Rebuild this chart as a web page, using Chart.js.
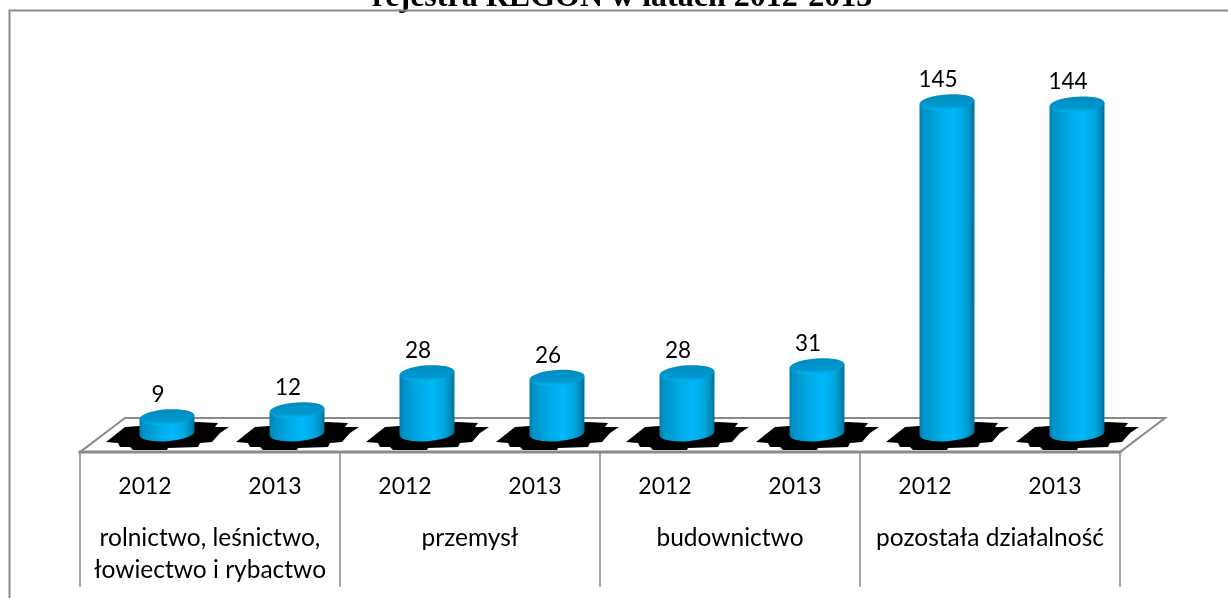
<!DOCTYPE html>
<html><head><meta charset="utf-8">
<style>html,body{margin:0;padding:0;background:#fff;overflow:hidden}#wrap{width:1228px;height:598px}</style>
<script src="https://cdn.jsdelivr.net/npm/chart.js@4"></script>
</head><body><div id="wrap"><canvas id="c"></canvas></div>
<script>
const years = ['2012','2013','2012','2013','2012','2013','2012','2013'];
const groups = [['rolnictwo, leśnictwo,','łowiectwo i rybactwo'],'przemysł','budownictwo','pozostała działalność'];
const values = [9,12,28,26,28,31,145,144];
const titleText = 'rejestra REGON w latach 2012-2013';
const FONT = 'Lato';
const GREY = '#8a8a8a';
const DEPTH = 22;   // sideways shift of the 3D floor
const TILT = -0.07;
const shadow = [[-61,4],[-42,-11],[30,-16],[51,-15],[48,-11],[62,-11],[53,-5],[45,4],[33,5],[31,9],[1,10],[0,12],[-34,12],[-37,9],[-47,9],[-49,5]];

function line(ctx,pts,w){ctx.save();ctx.strokeStyle=GREY;ctx.lineWidth=w;ctx.lineCap='square';ctx.beginPath();
  pts.forEach((p,i)=>i?ctx.lineTo(p[0],p[1]):ctx.moveTo(p[0],p[1]));ctx.stroke();ctx.restore();}

const scene = {
  id:'scene',
  beforeDatasetsDraw(chart){
    const ctx=chart.ctx, x=chart.scales.x, y=chart.scales.y;
    const base=y.getPixelForValue(0), L=x.left-DEPTH, R=x.right-DEPTH, step=(R-L)/4;
    const front=base+14, back=base-20;
    // outer frame
    line(ctx,[[9.5,598],[9.5,10.5],[1228,10.5]],2);
    // floor
    ctx.save();ctx.fillStyle='#fff';ctx.beginPath();ctx.moveTo(L,front);ctx.lineTo(L+45,back);ctx.lineTo(R+45,back);ctx.lineTo(R,front);ctx.closePath();ctx.fill();ctx.restore();
    line(ctx,[[L,front],[L+45,back],[R+45,back],[R,front]],2);
    // shadows
    const meta=chart.getDatasetMeta(0);
    ctx.save();ctx.fillStyle='#000';
    meta.data.forEach(b=>{ctx.beginPath();shadow.forEach((p,i)=>{const a=b.x+p[0],c=base+p[1];i?ctx.lineTo(a,c):ctx.moveTo(a,c);});ctx.closePath();ctx.fill();});
    ctx.restore();
    line(ctx,[[L,front],[R,front]],3);
    for(let i=0;i<=4;i++) line(ctx,[[L+i*step,front],[L+i*step,586]],1.5);
  },
  beforeDatasetDraw(chart,args){
    const ctx=chart.ctx, meta=chart.getDatasetMeta(args.index);
    meta.data.forEach(b=>{
      const w=b.width, rx=w/2, ry=7.8, cx=b.x, top=b.y, bot=b.base-4.6;
      const dy=rx*Math.sin(TILT);
      const g=ctx.createLinearGradient(cx-rx,0,cx+rx,0);
      g.addColorStop(0,'#007fb0');g.addColorStop(.08,'#0093c9');g.addColorStop(.35,'#00a9e4');
      g.addColorStop(.6,'#00b8fb');g.addColorStop(.82,'#00a6df');g.addColorStop(.94,'#0086b6');g.addColorStop(1,'#006f96');
      ctx.save();
      ctx.fillStyle=g;ctx.beginPath();
      ctx.moveTo(cx-rx,top-dy);
      ctx.lineTo(cx-rx,bot-dy);
      ctx.ellipse(cx,bot,rx,ry,TILT,Math.PI,0,true);
      ctx.lineTo(cx+rx,top+dy);
      ctx.closePath();ctx.fill();
      const c=ctx.createLinearGradient(0,top-ry,0,top+ry);
      c.addColorStop(0,'#008cc0');c.addColorStop(.72,'#0097ce');c.addColorStop(1,'#00b4f0');
      ctx.fillStyle=c;ctx.beginPath();ctx.ellipse(cx,top,rx,ry,TILT,0,Math.PI*2);ctx.fill();
      ctx.restore();
    });
    return false;
  },
  afterDatasetsDraw(chart){
    const ctx=chart.ctx, meta=chart.getDatasetMeta(0);
    ctx.save();ctx.fillStyle='#000';ctx.font='22.5px '+FONT;ctx.textAlign='center';ctx.textBaseline='middle';
    meta.data.forEach((b,i)=>ctx.fillText(String(values[i]),b.x-9,b.y-22.5));
    ctx.restore();
  }
};

new Chart(document.getElementById('c'),{
  type:'bar',
  data:{labels:years,datasets:[{data:values,backgroundColor:'#00b0f0',barPercentage:55/130,categoryPercentage:1}]},
  options:{
    responsive:true,maintainAspectRatio:false,animation:false,
    layout:{padding:{left:102,right:86,top:0,bottom:0}},
    plugins:{
      legend:{display:false},tooltip:{enabled:false},
      title:{display:true,text:titleText,color:'#000',align:'center',
        font:{family:'Liberation Serif',size:32,weight:'bold',lineHeight:1.2},
        padding:{top:-21.5,bottom:4.2}}
    },
    scales:{
      y:{display:false,min:0,max:180},
      x:{type:'category',offset:true,position:'bottom',grid:{display:false},border:{display:false},
        ticks:{color:'#000',font:{family:FONT,size:23},labelOffset:-DEPTH,padding:27,maxRotation:0,autoSkip:false},
        afterFit(s){s.height=72;}},
      x2:{type:'category',axis:'x',labels:groups,offset:true,position:'bottom',grid:{display:false},border:{display:false},
        ticks:{color:'#000',font:{family:FONT,size:24.5,lineHeight:1.27},labelOffset:-DEPTH,padding:5,maxRotation:0,autoSkip:false},
        afterFit(s){s.height=88;}}
    }
  },
  plugins:[scene]
});
</script></body></html>
